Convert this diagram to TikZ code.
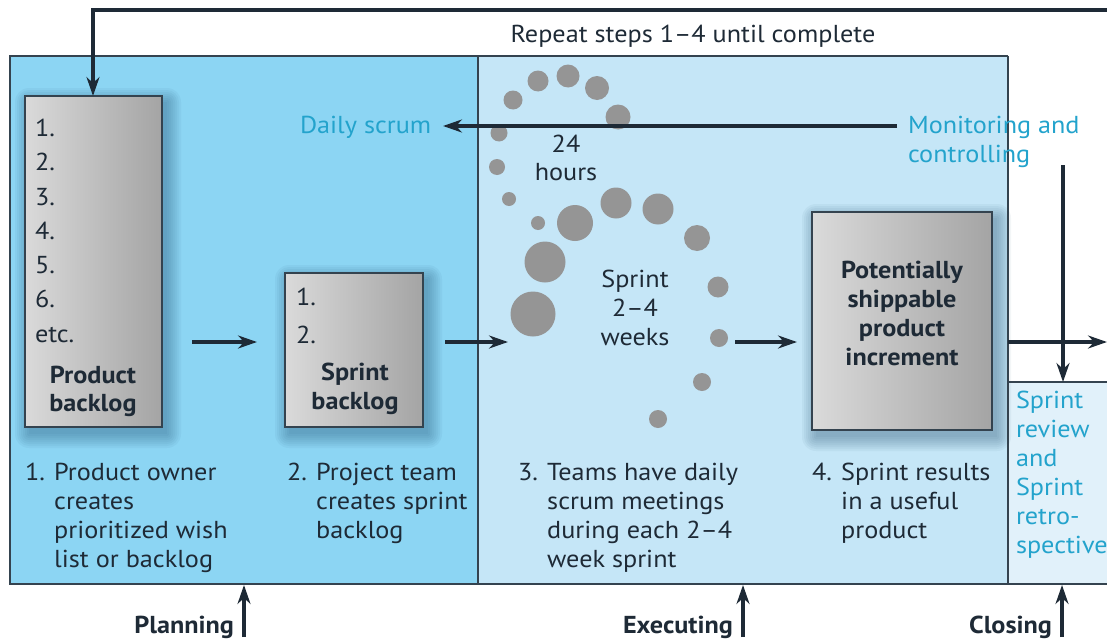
\documentclass[tikz,border=0pt]{standalone}
\usepackage{fontspec}
\setmainfont[FakeStretch=1.07]{PT Sans}
\usetikzlibrary{arrows.meta}

\definecolor{planblue}{HTML}{8CD5F3}
\definecolor{execblue}{HTML}{C5E6F7}
\definecolor{closeblue}{HTML}{E1F1FA}
\definecolor{cyantext}{HTML}{23A3CC}
\definecolor{inkdark}{HTML}{1E2A36}
\definecolor{framegray}{HTML}{34434F}
\definecolor{dotgray}{HTML}{959595}
\definecolor{boxlight}{HTML}{DADADA}
\definecolor{boxdark}{HTML}{A4A4A4}
\definecolor{shadeblue}{HTML}{1C4A6A}

\pgfdeclarelayer{fills}
\pgfdeclarelayer{shades}
\pgfsetlayers{fills,shades,main}

\begin{document}
\begin{tikzpicture}[x=1pt,y=-1pt,
  every node/.style={inner sep=0pt, outer sep=0pt, text=inkdark,
    font=\fontsize{24.5}{29}\selectfont},
  backlogbox/.style={rectangle, draw=framegray, line width=1.3pt,
    left color=boxlight, right color=boxdark},
  softshade/.style={fill=shadeblue, opacity=0.05},
  flow/.style={draw=inkdark, line width=3.2pt,
    -{Stealth[length=19pt,width=13pt]}},
  frameline/.style={draw=framegray, line width=1.4pt},
  dot/.style={circle, fill=dotgray, inner sep=0pt, minimum size=#1},
  steptext/.style={anchor=base west, align=left},
  cyanlabel/.style={text=cyantext, anchor=base west, align=left},
  boxtitle/.style={anchor=base, font=\fontsize{24.5}{29}\selectfont\bfseries},
  phase/.style={anchor=base east, font=\fontsize{24.5}{29}\selectfont\bfseries},
]
\useasboundingbox (0,0) rectangle (1107,642);

% phase regions
\begin{pgfonlayer}{fills}
\fill[planblue] (10,56) rectangle (478,584);
\fill[execblue] (478,56) rectangle (1008,584);
\fill[closeblue] (1008,382) rectangle (1107,584);
\end{pgfonlayer}

% frame
\draw[frameline] (1008,56) -- (10,56) -- (10,584) -- (1107,584);
\draw[frameline] (478,56) -- (478,584);
\draw[frameline] (1008,56) -- (1008,584);
\draw[frameline] (1008,382) -- (1107,382);
\draw[framegray, line width=2.8pt] (1008,190) -- (1008,483);
\draw[framegray, line width=2.8pt] (1008,382) -- (1030,382);

% backlog boxes
\node[backlogbox, minimum width=137, minimum height=331] (pb) at (93.5,261.5) {};
\node[backlogbox, minimum width=138, minimum height=154] (sb) at (354,350) {};
\node[backlogbox, minimum width=180, minimum height=218] (psi) at (902,321) {};

% soft shadows below and right of the boxes
\begin{pgfonlayer}{shades}
\foreach \b in {pb,sb,psi}{
  \foreach \s in {0,2,...,14}{
    \fill[softshade, rounded corners=\s pt]
      ([shift={(4-\s,6-\s)}]\b.north west) rectangle ([shift={(5+\s,7+\s)}]\b.south east);
  }
}
\end{pgfonlayer}

% product backlog contents
\node[steptext] (pb1) at (35,136) {1.};
\node[steptext] (pb2) at (35,170) {2.};
\node[steptext] (pb3) at (35,205) {3.};
\node[steptext] (pb4) at (35,239) {4.};
\node[steptext] (pb5) at (35,273) {5.};
\node[steptext] (pb6) at (35,307) {6.};
\node[steptext] (pb7) at (35,342) {etc.};
\node[boxtitle] (pbt1) at (93,383) {Product};
\node[boxtitle] (pbt2) at (93,411) {backlog};

% sprint backlog contents
\node[steptext] (sb1) at (296,305) {1.};
\node[steptext] (sb2) at (296,343) {2.};
\node[boxtitle] (sbt1) at (355,380) {Sprint};
\node[boxtitle] (sbt2) at (355,409) {backlog};

% increment box contents
\node[boxtitle] (psit) at (902,278) {\begin{tabular}[t]{@{}c@{}}Potentially\\shippable\\product\\increment\end{tabular}};

% sprint cycle dots
\node[dot=19] (d1) at (513,100) {};
\node[dot=21] (d2) at (538,81) {};
\node[dot=23] (d3) at (568,76) {};
\node[dot=24] (d4) at (597,88) {};
\node[dot=25] (d5) at (618,117) {};
\node[dot=17] (d6) at (499,133) {};
\node[dot=16] (d7) at (497,167) {};
\node[dot=14] (d8) at (509,199) {};
\node[dot=14] (d9) at (538,223) {};
\node[dot=36] (d10) at (575,223) {};
\node[dot=31] (d11) at (616,203) {};
\node[dot=31] (d12) at (658,209) {};
\node[dot=26] (d13) at (697,238) {};
\node[dot=41] (d14) at (545,262) {};
\node[dot=45] (d15) at (533,314) {};
\node[dot=21] (d16) at (718,287) {};
\node[dot=18] (d17) at (719,338) {};
\node[dot=18] (d18) at (702,382) {};
\node[dot=18] (d19) at (658,419) {};

\node[anchor=base] (hrs1) at (566,152) {24};
\node[anchor=base] (hrs2) at (566,180) {hours};
\node[anchor=base] (spr) at (635,287) {\begin{tabular}[t]{@{}c@{}}Sprint\\2–4\\weeks\end{tabular}};

% labels for the daily cycle
\node[cyanlabel] (daily) at (300,133) {Daily scrum};
\node[cyanlabel] (monitor) at (908,133) {\begin{tabular}[t]{@{}l@{}}Monitoring and\\controlling\end{tabular}};
\node[anchor=base] (repeat) at (693,42) {Repeat steps 1–4 until complete};

% step descriptions
\node[steptext] (st1) at (25,480) {\begin{tabular}[t]{@{}l@{ }l@{}}1.&Product owner\\&creates\\&prioritized wish\\&list or backlog\end{tabular}};
\node[steptext] (st2) at (287,480) {\begin{tabular}[t]{@{}l@{ }l@{}}2.&Project team\\&creates sprint\\&backlog\end{tabular}};
\node[steptext] (st3) at (518,480) {\begin{tabular}[t]{@{}l@{ }l@{}}3.&Teams have daily\\&scrum meetings\\&during each 2–4\\&week sprint\end{tabular}};
\node[steptext] (st4) at (812,480) {\begin{tabular}[t]{@{}l@{ }l@{}}4.&Sprint results\\&in a useful\\&product\end{tabular}};
\node[cyanlabel] (review) at (1016,408) {\begin{tabular}[t]{@{}l@{}}Sprint\\review\\and\\Sprint\\retro-\\spective\end{tabular}};

% phase labels
\node[phase] (plan) at (234,633) {Planning};
\node[phase] (exec) at (733,633) {Executing};
\node[phase] (close) at (1052,633) {Closing};

% connector end points
\coordinate (loopin) at (1107,10);
\coordinate (loopcorner) at (93,10);
\coordinate (a1s) at (192,342);
\coordinate (a1e) at (257,342);
\coordinate (a2s) at (445,342);
\coordinate (a2e) at (508,342);
\coordinate (a3s) at (735,342);
\coordinate (a3e) at (797,342);
\coordinate (outs) at (1008,342);
\coordinate (oute) at (1107,342);
\coordinate (mons) at (1063,165);
\coordinate (mone) at (1063,382);
\coordinate (dails) at (897,126);
\coordinate (daile) at (443,126);
\coordinate (planup) at (244,637);
\coordinate (planend) at (244,585);
\coordinate (execup) at (743,637);
\coordinate (execend) at (743,585);
\coordinate (closeup) at (1062,637);
\coordinate (closeend) at (1062,585);

% connectors
\draw[flow] (loopin) -- (loopcorner) -- (pb.north -| loopcorner);
\draw[flow] (a1s) -- (a1e);
\draw[flow] (a2s) -- (a2e);
\draw[flow] (a3s) -- (a3e);
\draw[flow] (outs) -- (oute);
\draw[flow] (mons) -- (mone);
\draw[flow] (dails) -- (daile);
\draw[flow] (planup) -- (planend);
\draw[flow] (execup) -- (execend);
\draw[flow] (closeup) -- (closeend);
\end{tikzpicture}
\end{document}
